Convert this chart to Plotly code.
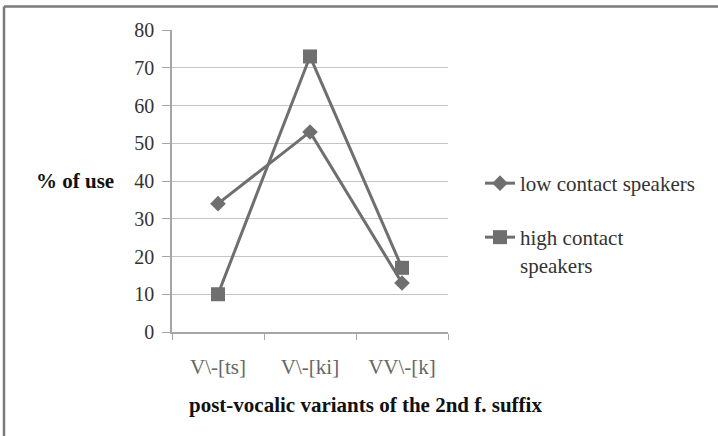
import plotly.graph_objects as go

categories = ["V\\-[ts]", "V\\-[ki]", "VV\\-[k]"]
low_contact = [34, 53, 13]
high_contact = [10, 73, 17]
y_ticks = [0, 10, 20, 30, 40, 50, 60, 70, 80]

W, H = 718, 436
L, R, T, B = 172, 448, 30, 332
pw, ph = R - L, B - T

def px(x):
    return (x - L) / pw

def py(y):
    return (B - y) / ph

FONT = "Liberation Serif"
LINE = "#6f6f6f"

fig = go.Figure()
fig.add_trace(go.Scatter(
    x=categories, y=low_contact, mode="lines+markers",
    name="low contact speakers",
    line=dict(color=LINE, width=3),
    marker=dict(symbol="diamond", size=12, color=LINE),
    legend="legend",
))
fig.add_trace(go.Scatter(
    x=categories, y=high_contact, mode="lines+markers",
    name="high contact<br>speakers",
    line=dict(color=LINE, width=3),
    marker=dict(symbol="square", size=14, color=LINE),
    legend="legend2",
))

fig.update_layout(
    width=W, height=H,
    margin=dict(l=L, r=W - R, t=T, b=H - B, pad=0),
    paper_bgcolor="white", plot_bgcolor="white",
    font=dict(family=FONT, color="#333333", size=19),
    xaxis=dict(
        type="category", range=[-0.5, 2.5],
        showgrid=False, showline=True, linecolor="#a6a6a6", linewidth=1.5,
        ticks="outside", tickson="boundaries", ticklen=6, tickcolor="#a6a6a6",
        tickfont=dict(family=FONT, size=21, color="#666666"),
        ticklabelstandoff=15,
    ),
    yaxis=dict(
        range=[0, 80], tickvals=y_ticks,
        showgrid=True, gridcolor="#c4c4c4", gridwidth=1.2,
        showline=True, linecolor="#a6a6a6", linewidth=1.5,
        ticks="outside", ticklen=8, tickcolor="#a6a6a6",
        tickfont=dict(family=FONT, size=20, color="#333333"),
        ticklabelstandoff=4, zeroline=False,
    ),
    legend=dict(
        x=px(480), y=py(163), xanchor="left", yanchor="top",
        font=dict(family=FONT, size=21, color="#333333"),
        bgcolor="rgba(0,0,0,0)", valign="top",
    ),
    legend2=dict(
        x=px(480), y=py(217), xanchor="left", yanchor="top",
        font=dict(family=FONT, size=21, color="#333333"),
        bgcolor="rgba(0,0,0,0)", valign="top",
    ),
    showlegend=True,
    annotations=[
        dict(text="<b>% of use</b>", xref="paper", yref="paper",
             x=px(75), y=py(181), xanchor="center", yanchor="middle",
             showarrow=False, font=dict(family=FONT, size=21, color="#111111")),
        dict(text="<b>post-vocalic variants of the 2nd f. suffix</b>",
             xref="paper", yref="paper",
             x=px(365), y=py(405), xanchor="center", yanchor="middle",
             showarrow=False, font=dict(family=FONT, size=21, color="#111111")),
    ],
    shapes=[
        dict(type="line", xref="paper", yref="paper",
             x0=px(4), x1=px(730), y0=py(6.5), y1=py(6.5),
             line=dict(color="#7a7a7a", width=2.5)),
        dict(type="line", xref="paper", yref="paper",
             x0=px(4), x1=px(4), y0=py(6.5), y1=py(450),
             line=dict(color="#7a7a7a", width=2.5)),
    ],
)

fig.write_html(
    "out.html",
    config={"displayModeBar": False},
    post_script="document.body.style.margin='0';document.body.style.overflow='hidden';",
)
